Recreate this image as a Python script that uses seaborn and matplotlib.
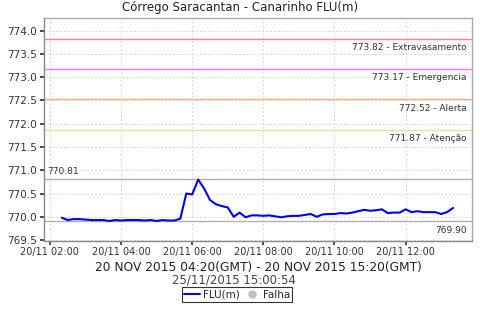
import numpy as np
import pandas as pd
import matplotlib
matplotlib.use("Agg")
import matplotlib.pyplot as plt
import matplotlib.dates as mdates
from matplotlib.lines import Line2D
import seaborn as sns

title = "Córrego Saracantan - Canarinho FLU(m)"
subtitle = "20 NOV 2015 04:20(GMT) - 20 NOV 2015 15:20(GMT)"
stamp = "25/11/2015 15:00:54"

start_time = "2015-11-20 02:20"
step_minutes = 10
flu_values = [
    769.98, 769.93, 769.95, 769.95, 769.94, 769.93, 769.93, 769.93, 769.91, 769.93,
    769.92, 769.93, 769.93, 769.93, 769.92, 769.93, 769.91, 769.93, 769.92, 769.92,
    769.96, 770.50, 770.48, 770.80, 770.61, 770.36, 770.27, 770.23, 770.20, 770.00,
    770.09, 769.99, 770.03, 770.03, 770.02, 770.03, 770.01, 769.99, 770.01, 770.02,
    770.02, 770.04, 770.06, 770.00, 770.05, 770.06, 770.06, 770.08, 770.07, 770.09,
    770.12, 770.15, 770.13, 770.14, 770.16, 770.08, 770.09, 770.09, 770.16, 770.10,
    770.12, 770.10, 770.10, 770.10, 770.06, 770.10, 770.19,
]

threshold_values = [773.82, 773.17, 772.52, 771.87]
threshold_names = ["Extravasamento", "Emergencia", "Alerta", "Atenção"]
threshold_colors = ["#ff8080", "#ff70ff", "#f5b080", "#f5e090"]
max_value = 770.81
min_value = 769.90

times = pd.date_range(start_time, periods=len(flu_values), freq=f"{step_minutes}min")
df = pd.DataFrame({"time": times, "FLU(m)": flu_values})

sns.set_theme(style="white")
plt.rcParams["font.family"] = ["DejaVu Sans"]

fig = plt.figure(figsize=(4.8, 3.2), dpi=100)
ax = fig.add_axes([44 / 480, 1 - 241 / 320, 428 / 480, 223 / 320])

ax.grid(True, color="#d8d8d8", linestyle=(0, (2, 2)), linewidth=0.7)
ax.set_axisbelow(True)

for v, name, c in zip(threshold_values, threshold_names, threshold_colors):
    ax.axhline(v, color=c, linewidth=1.0, zorder=2)
    ax.annotate(f"{v:.2f} - {name}", xy=(1, v), xycoords=("axes fraction", "data"),
                xytext=(-4, -3), textcoords="offset points", ha="right", va="top",
                fontsize=6.5, color="#333333")
ax.axhline(max_value, color="#b0b0b0", linewidth=1.0, zorder=2)
ax.annotate(f"{max_value:.2f}", xy=(0, max_value), xycoords=("axes fraction", "data"),
            xytext=(2, 2), textcoords="offset points", ha="left", va="bottom",
            fontsize=6.5, color="#333333")
ax.axhline(min_value, color="#b0b0b0", linewidth=1.0, zorder=2)
ax.annotate(f"{min_value:.2f}", xy=(1, min_value), xycoords=("axes fraction", "data"),
            xytext=(-4, -3), textcoords="offset points", ha="right", va="top",
            fontsize=6.5, color="#333333")

sns.lineplot(data=df, x="time", y="FLU(m)", ax=ax, color="#0000ff", linewidth=1.5, zorder=3)

ax.set_ylim(769.48, 774.27)
ax.set_yticks(np.arange(769.5, 774.01, 0.5))
ax.yaxis.set_major_formatter(matplotlib.ticker.FormatStrFormatter("%.1f"))
ax.set_xlim(pd.Timestamp("2015-11-20 01:50"), pd.Timestamp("2015-11-20 13:52"))
ax.xaxis.set_major_locator(mdates.HourLocator(byhour=range(0, 24, 2)))
ax.xaxis.set_major_formatter(mdates.DateFormatter("%d/%m %H:%M"))
ax.set_xlabel("")
ax.set_ylabel("")
ax.tick_params(axis="y", labelsize=7.5, length=3, direction="out", left=True, pad=2, colors="#333333")
ax.tick_params(axis="x", labelsize=7, length=3, direction="out", bottom=True, pad=1, colors="#333333")
for s in ax.spines.values():
    s.set_color("#aaaaaa")
    s.set_linewidth(1.0)
ax.spines["left"].set_color("#888888")
ax.spines["bottom"].set_color("#888888")

fig.text(0.5, 1 - 8 / 320, title, ha="center", va="center", fontsize=8.5, color="#222222")
fig.text(258 / 480, 1 - 267 / 320, subtitle, ha="center", va="center", fontsize=8.8, color="#222222")
fig.text(234 / 480, 1 - 280 / 320, stamp, ha="center", va="center", fontsize=8.5, color="#444444")

handles = [Line2D([], [], color="#0000ff", linewidth=1.5),
           Line2D([], [], color="#c0c0c0", marker="o", linestyle="", markersize=5)]
leg = fig.legend(handles, ["FLU(m)", "Falha"], loc="center", bbox_to_anchor=(237 / 480, 1 - 294.5 / 320),
                 ncol=2, fontsize=7.5, frameon=True, fancybox=False, handlelength=1.5,
                 handletextpad=0.3, columnspacing=0.4, borderpad=0.25, borderaxespad=0)
leg.get_frame().set_edgecolor("black")
leg.get_frame().set_linewidth(0.8)

fig.savefig("out.png", dpi=100)
